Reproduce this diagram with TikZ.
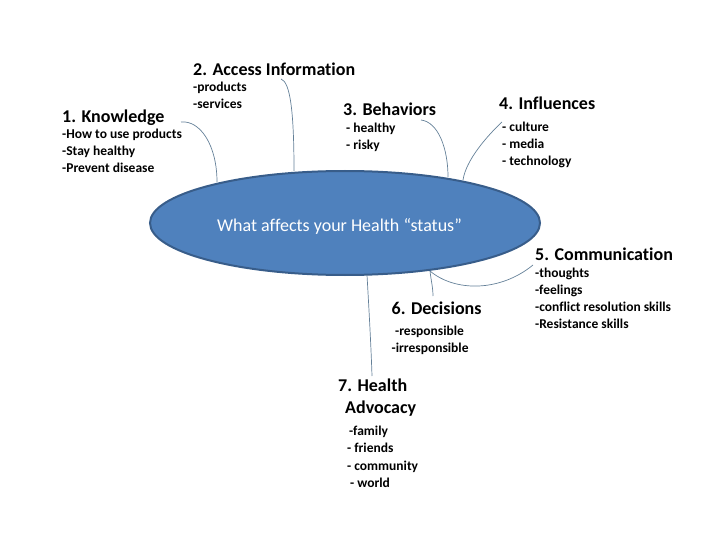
\documentclass[tikz,border=0pt]{standalone}
\usepackage{fontspec}
\setmainfont{Carlito}[Ligatures=NoCommon]
\usetikzlibrary{shapes.geometric}
\definecolor{ellfill}{HTML}{4F81BD}
\definecolor{elldraw}{HTML}{385D8A}
\definecolor{conn}{RGB}{100,128,152}
\begin{document}
\begin{tikzpicture}[x=1pt,y=-1pt,
  ttl/.style={anchor=base west,inner sep=0pt,font=\fontsize{18}{21}\selectfont\bfseries},
  sub/.style={anchor=base west,inner sep=0pt,font=\fontsize{13.5}{17}\selectfont\bfseries},
  link/.style={draw=conn,line width=0.7pt}]
\useasboundingbox (0,0) rectangle (720,540);
% central ellipse
\node[ellipse,fill=ellfill,draw=elldraw,line width=2pt,minimum width=390pt,minimum height=104pt,inner sep=0pt] (E) at (345,223) {};
\node[anchor=base west,inner sep=0pt,text=white,font=\fontsize{18}{21}\selectfont] (ctext) at (217,231.5) {What affects your Health “status”};
% 1
\node[ttl] (t1) at (62,123) {1. Knowledge};
\node[sub] (s1a) at (62,139) {-How to use products};
\node[sub] (s1b) at (62,156) {-Stay healthy};
\node[sub] (s1c) at (62,173) {-Prevent disease};
% 2
\node[ttl] (t2) at (193,75.5) {2. Access Information};
\node[sub] (s2a) at (193,92) {-products};
\node[sub] (s2b) at (193,108.5) {-services};
% 3
\node[ttl] (t3) at (343,115.5) {3. Behaviors};
\node[sub] (s3a) at (346,133) {- healthy};
\node[sub] (s3b) at (346,150) {- risky};
% 4
\node[ttl] (t4) at (499,110) {4. Influences};
\node[sub] (s4a) at (502,131.5) {- culture};
\node[sub] (s4b) at (502,149) {- media};
\node[sub] (s4c) at (502,166) {- technology};
% 5
\node[ttl] (t5) at (535,260) {5. Communication};
\node[sub] (s5a) at (535,277.5) {-thoughts};
\node[sub] (s5b) at (535,294.5) {-feelings};
\node[sub] (s5c) at (535,311) {-conflict resolution skills};
\node[sub] (s5d) at (535,328) {-Resistance skills};
% 6
\node[ttl] (t6) at (391.5,314) {6. Decisions};
\node[sub] (s6a) at (395,335) {-responsible};
\node[sub] (s6b) at (391.5,352.5) {-irresponsible};
% 7
\node[ttl] (t7a) at (338,391.5) {7. Health};
\node[ttl] (t7b) at (345,413.5) {Advocacy};
\node[sub] (s7a) at (349,435) {-family};
\node[sub] (s7b) at (347,452.5) {- friends};
\node[sub] (s7c) at (347,470) {- community};
\node[sub] (s7d) at (350,487) {- world};
% connector end points
\coordinate (k1) at (181,122);
\coordinate (e1) at (217,182);
\coordinate (k2) at (281,79);
\coordinate (e2) at (294,171);
\coordinate (k3) at (421,120);
\coordinate (e3) at (448,177);
\coordinate (k4) at (502,122);
\coordinate (e4) at (463,180);
\coordinate (e56) at (430,271);
\coordinate (k5) at (533,265);
\coordinate (k6) at (433,296);
\coordinate (e7) at (367,275);
\coordinate (k7) at (372,376);
% connectors
\draw[link] (k1) .. controls (200,120) and (217,145) .. (e1);
\draw[link] (k2) .. controls (290,82) and (294,110) .. (e2);
\draw[link] (k3) .. controls (438,122) and (448,148) .. (e3);
\draw[link] (k4) .. controls (487,136) and (466,160) .. (e4);
\draw[link] (e56) .. controls (455,292) and (500,292) .. (k5);
\draw[link] (e56) .. controls (431,280) and (433,288) .. (k6);
\draw[link] (e7) .. controls (369,310) and (371,345) .. (k7);
\end{tikzpicture}
\end{document}
